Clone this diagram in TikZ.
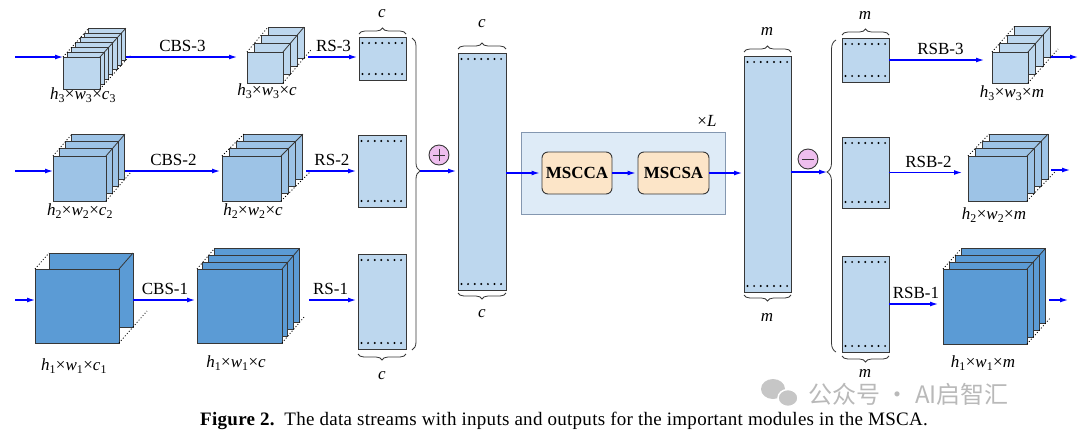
\documentclass[tikz,border=0pt]{standalone}
\usepackage{fontspec}
\setmainfont{Liberation Serif}
\newfontfamily\cjk{Noto Sans CJK SC}
\usetikzlibrary{arrows.meta,calc,decorations.pathreplacing}
\definecolor{deepblue}{RGB}{91,155,213}
\definecolor{midblue}{RGB}{157,195,230}
\definecolor{paleblue}{RGB}{189,215,238}
\definecolor{loopblue}{RGB}{222,235,247}
\definecolor{loopedge}{RGB}{132,151,176}
\definecolor{peach}{RGB}{252,229,200}
\definecolor{opviolet}{RGB}{238,190,238}
\definecolor{inkgray}{RGB}{55,55,55}
\tikzset{
  layer/.style={draw=inkgray,line width=0.9pt,anchor=north west,inner sep=0pt,outer sep=0pt},
  hidline/.style={black,line width=0.8pt,dash pattern=on 1pt off 2pt},
  rimline/.style={inkgray,line width=0.8pt},
  fmap/.style={draw=inkgray,line width=0.9pt,fill=paleblue,anchor=north west,inner sep=0pt,outer sep=0pt},
  rowdots/.style={line width=2.2pt,line cap=round,dash pattern=on 0pt off 6.6pt},
  flow/.style={blue,text=black,line width=1.2pt,-{Latex[length=8pt,width=5pt]},shorten >=2pt},
  mbrace/.style={decorate,decoration={brace,amplitude=6pt},inkgray,line width=0.8pt},
  bigbrace/.style={decorate,inkgray,line width=0.8pt},
  attn/.style={draw=inkgray,line width=0.9pt,fill=peach,rounded corners=6pt,minimum width=70pt,minimum height=42pt,inner sep=1pt,font=\fontsize{17}{20}\selectfont\bfseries},
  opnode/.style={circle,draw=inkgray,line width=0.9pt,fill=opviolet,minimum size=20pt,inner sep=0pt},
  opmark/.style={inkgray,line width=1pt}
}
% stack of feature maps: name, x, y, width, height, layers, dx, dy, colour
\newcommand{\fstack}[9]{%
  \foreach \k in {#6,...,1}
    \node[layer,fill=#9,minimum width=#4pt,minimum height=#5pt] (#1-\k) at ({#2+(\k-1)*#7},{#3-(\k-1)*#8}) {};
  \draw[hidline] (#1-1.north west) -- (#1-#6.north west);
  \draw[hidline] (#1-1.south east) -- ($(#1-#6.south east)+(#7,-#8)$);
  \draw[rimline] (#1-1.north east) -- (#1-#6.north east);
}
\newcommand{\fdots}[1]{%
  \draw[rowdots] ($(#1.north west)+(3.5,6)$) -- ($(#1.north east)+(-3,6)$);
  \draw[rowdots] ($(#1.south west)+(3.5,-6)$) -- ($(#1.south east)+(-3,-6)$);
}
\newcommand{\sz}[2]{\textit{h}\textsubscript{#1}×\textit{w}\textsubscript{#1}×\textit{#2}}
\begin{document}
\begin{tikzpicture}[x=1pt,y=-1pt,font=\fontsize{17}{20}\selectfont]
  \useasboundingbox (0,0) rectangle (1080,437);
  % input streams
  \fstack{in3}{63}{57}{37}{32}{7}{4.3}{4.8}{paleblue}
  \fstack{in2}{53}{156}{53}{45}{4}{6.3}{7.3}{midblue}
  \fstack{in1}{35}{269}{84}{74}{2}{14}{16}{deepblue}
  \fstack{mid3}{247}{52}{36}{31}{4}{7}{8.3}{paleblue}
  \fstack{mid2}{222}{156}{59}{45}{4}{7.3}{7.3}{midblue}
  \fstack{mid1}{197}{269}{85}{74}{4}{5.7}{6.7}{deepblue}
  \node (lin3) at (83,95) {\sz{3}{c}\textsubscript{3}};
  \node (lin2) at (80,211) {\sz{2}{c}\textsubscript{2}};
  \node (lin1) at (74,366) {\sz{1}{c}\textsubscript{1}};
  \node (lmid3) at (267,91) {\sz{3}{c}};
  \node (lmid2) at (253,211) {\sz{2}{c}};
  \node (lmid1) at (236,363) {\sz{1}{c}};
  \coordinate (i3) at (15,57);
  \coordinate (i2) at (15,171);
  \coordinate (i1) at (15,300);
  \draw[flow,shorten >=0pt] (i3) -- (in3-1.north west);
  \draw[flow,shorten >=0pt] (i2) -- (i2 -| in2-1.west);
  \draw[flow,shorten >=0pt] (i1) -- (i1 -| in1-1.west);
  \draw[flow,shorten >=10pt] (in3-7.east |- i3) -- node[above=1pt,xshift=-4pt] {CBS-3} (i3 -| mid3-1.west);
  \draw[flow] (in2-4.east |- i2) -- node[above=1pt] {CBS-2} (i2 -| mid2-1.west);
  \draw[flow] (in1-2.east |- i1) -- node[above=1pt] {CBS-1} (i1 -| mid1-1.west);
  % reshaped maps
  \node[fmap,minimum width=47pt,minimum height=43pt] (r3) at (359,37) {};
  \node[fmap,minimum width=48pt,minimum height=72pt] (r2) at (358,135) {};
  \node[fmap,minimum width=48pt,minimum height=95pt] (r1) at (358,254) {};
  \fdots{r3} \fdots{r2} \fdots{r1}
  \draw[flow] ([xshift=4pt]mid3-4.east |- i3) -- node[above=1pt] {RS-3} (i3 -| r3.west);
  \draw[flow] ([xshift=3pt]mid2-4.east |- i2) -- node[above=1pt] {RS-2} (i2 -| r2.west);
  \draw[flow] ([xshift=10pt]mid1-4.east |- i1) -- node[above=1pt,xshift=-3pt] {RS-1} (i1 -| r1.west);
  \draw[mbrace] ($(r3.north west)+(0,-3)$) -- ($(r3.north east)+(0,-3)$);
  \node (lr3) at (382,14) {\textit{c}};
  \draw[mbrace] ($(r1.south east)+(0,5)$) -- ($(r1.south west)+(0,5)$);
  \node (lr1) at (382,376) {\textit{c}};
  \draw[bigbrace,decoration={brace,amplitude=8pt,aspect=0.426}] ($(r3.north east)+(6,1)$) -- ($(r1.south east)+(6,1)$);
  \coordinate (jt) at (420,171);
  \node[opnode] (plus) at (439,155) {};
  \draw[opmark] ($(plus)+(-6,0)$) -- ($(plus)+(6,0)$);
  \draw[opmark] ($(plus)+(0,-6)$) -- ($(plus)+(0,6)$);
  % fused map and encoder
  \node[fmap,minimum width=48pt,minimum height=237pt] (c1) at (458,53) {};
  \fdots{c1}
  \draw[flow] (jt) -- (jt -| c1.west);
  \draw[mbrace] ($(c1.north west)+(0,-4)$) -- ($(c1.north east)+(0,-4)$);
  \node (lc1t) at (482,24) {\textit{c}};
  \draw[mbrace] ($(c1.south east)+(0,3)$) -- ($(c1.south west)+(0,3)$);
  \node (lc1b) at (482,314) {\textit{c}};
  \node[fill=loopblue,draw=loopedge,line width=0.9pt,anchor=north west,minimum width=204pt,minimum height=82pt,inner sep=0pt] (loop) at (521,132) {};
  \node (xl) at (707,121) {×\textit{L}};
  \node[attn] (mscca) at (577,173) {MSCCA};
  \node[attn,minimum width=71pt] (mscsa) at (673.5,173) {MSCSA};
  \node[fmap,minimum width=47pt,minimum height=236pt] (c2) at (744,56) {};
  \fdots{c2}
  \draw[flow] (c1.east |- mscca) -- (mscca.west);
  \draw[flow] (mscca) -- (mscsa);
  \draw[flow] (mscsa.east) -- (mscsa.east -| c2.west);
  \draw[mbrace] ($(c2.north west)+(0,-4)$) -- ($(c2.north east)+(0,-4)$);
  \node (lc2t) at (767,31) {\textit{m}};
  \draw[mbrace] ($(c2.south east)+(0,3)$) -- ($(c2.south west)+(0,3)$);
  \node (lc2b) at (767,317) {\textit{m}};
  \node[opnode] (minus) at (808,159) {};
  \draw[opmark] ($(minus)+(-6,0)$) -- ($(minus)+(6,0)$);
  \coordinate (jt2) at (827,172);
  \draw[flow,shorten >=0pt] (jt2 -| c2.east) -- (jt2);
  % split maps and output streams
  \node[fmap,minimum width=47pt,minimum height=44pt] (s3) at (842,38) {};
  \node[fmap,minimum width=47pt,minimum height=71pt] (s2) at (842,137) {};
  \node[fmap,minimum width=47pt,minimum height=96pt] (s1) at (842,256) {};
  \fdots{s3} \fdots{s2} \fdots{s1}
  \draw[bigbrace,decoration={brace,amplitude=9pt,aspect=0.577}] ($(s1.south west)+(-6,0)$) -- ($(s3.north west)+(-6,2)$);
  \draw[mbrace] ($(s3.north west)+(0,-3)$) -- ($(s3.north east)+(0,-3)$);
  \node (ls3) at (865,15) {\textit{m}};
  \draw[mbrace] ($(s1.south east)+(0,4)$) -- ($(s1.south west)+(0,4)$);
  \node (ls1) at (865,373) {\textit{m}};
  \fstack{out3}{992}{52}{36}{31}{4}{7.5}{8.5}{paleblue}
  \fstack{out2}{968}{156}{59}{45}{4}{7}{7.3}{midblue}
  \fstack{out1}{943}{269}{84}{75}{4}{6}{6.7}{deepblue}
  \node (lout3) at (1012,93) {\sz{3}{m}};
  \node (lout2) at (994,215) {\sz{2}{m}};
  \node (lout1) at (983,363) {\sz{1}{m}};
  \draw[flow,shorten >=8pt] (s3.east) -- node[above=1pt] {RSB-3} (s3.east -| out3-1.west);
  \draw[flow,shorten >=6pt] (s2.east) -- node[above=1pt] {RSB-2} (s2.east -| out2-1.west);
  \draw[flow,shorten >=5pt] (s1.east) -- node[above=1pt] {RSB-1} (s1.east -| out1-1.west);
  \coordinate (o3) at (1078,57);
  \coordinate (o2) at (1070,170);
  \coordinate (o1) at (1068,300);
  \draw[flow,shorten >=0pt] (out3-4.east |- o3) -- (o3);
  \draw[flow,shorten >=0pt] ([xshift=3pt]out2-4.east |- o2) -- (o2);
  \draw[flow,shorten >=0pt] ([xshift=4pt]out1-4.east |- o1) -- (o1);
  % watermark and caption
  \fill[gray!45] (773,389) ellipse (12 and 10);
  \fill[gray!45,draw=white,line width=1.5pt] (788,398) ellipse (10 and 8.5);
  \node[text=gray!55,font=\cjk\fontsize{24}{27}\selectfont,anchor=west] (wm) at (805,394) {公众号 · AI启智汇};
  \node[font=\fontsize{19}{22}\selectfont\addfontfeature{LetterSpace=1.5}] (cap) at (564,421) {\textbf{Figure 2.}\hspace{0.5em}The data streams with inputs and outputs for the important modules in the MSCA.};
\end{tikzpicture}
\end{document}
